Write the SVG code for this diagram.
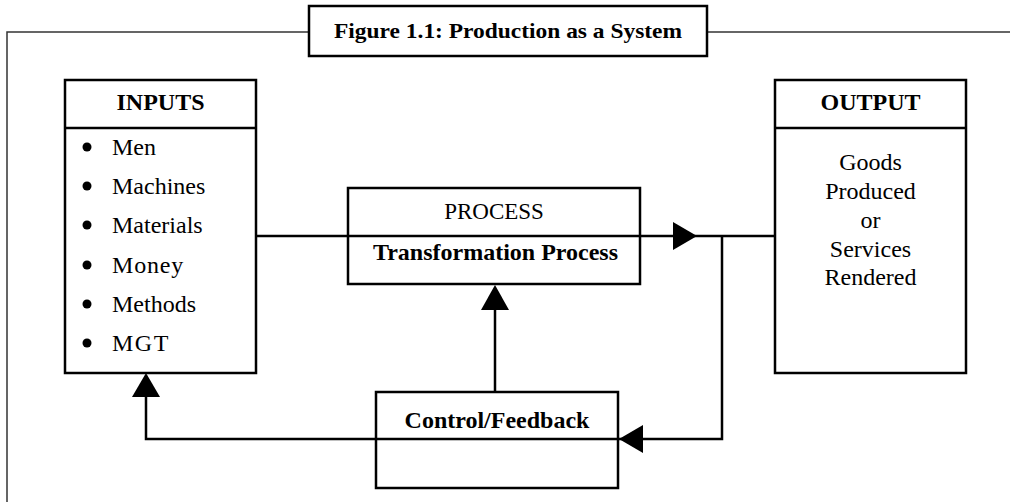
<svg xmlns="http://www.w3.org/2000/svg" width="1010" height="502" viewBox="0 0 1010 502">
<style>
.box{fill:#fff;stroke:#000;stroke-width:2.5}
.frame{fill:none;stroke:#333;stroke-width:1.5}
.conn{fill:none;stroke:#000;stroke-width:2.5}
.head{fill:#000}
text{font-family:"Liberation Serif","Times New Roman",serif;fill:#000}
.b{font-weight:bold;font-size:24px}
.r{font-size:24px}
.c{text-anchor:middle}
</style>
<rect width="1010" height="502" fill="#fff"/>
<g id="frame">
<polyline class="frame" points="7,502 7,32 309,32"/>
<line class="frame" x1="707" y1="32" x2="1010" y2="32"/>
</g>
<g id="title">
<rect class="box" x="309" y="6" width="398" height="50"/>
<text class="c" x="508" y="38" style="font-weight:bold;font-size:21px" textLength="348" lengthAdjust="spacingAndGlyphs">Figure 1.1: Production as a System</text>
</g>
<g id="inputs">
<rect class="box" x="65" y="80" width="191" height="293"/>
<line class="conn" x1="65" y1="128" x2="256" y2="128"/>
<text class="b c" x="160.5" y="110">INPUTS</text>
<g class="head">
<circle cx="87" cy="147" r="4.5"/>
<circle cx="87" cy="186" r="4.5"/>
<circle cx="87" cy="225" r="4.5"/>
<circle cx="87" cy="265" r="4.5"/>
<circle cx="87" cy="304" r="4.5"/>
<circle cx="87" cy="343" r="4.5"/>
</g>
<text class="r" x="112" y="155">Men</text>
<text class="r" x="112" y="194">Machines</text>
<text class="r" x="112" y="233">Materials</text>
<text class="r" x="112" y="273" letter-spacing="0.8">Money</text>
<text class="r" x="112" y="312">Methods</text>
<text class="r" x="112" y="351" letter-spacing="1.5">MGT</text>
</g>
<g id="process">
<rect class="box" x="348" y="188" width="292" height="96"/>
<text class="r c" x="494" y="219" style="font-size:23px">PROCESS</text>
<text class="b c" x="495.5" y="260">Transformation Process</text>
</g>
<g id="output">
<rect class="box" x="775" y="80" width="191" height="293"/>
<line class="conn" x1="775" y1="128" x2="966" y2="128"/>
<text class="b c" x="870.5" y="110">OUTPUT</text>
<text class="r c" x="870.5" y="170">Goods</text>
<text class="r c" x="870.5" y="199">Produced</text>
<text class="r c" x="870.5" y="228">or</text>
<text class="r c" x="870.5" y="257">Services</text>
<text class="r c" x="870.5" y="285">Rendered</text>
</g>
<g id="control">
<rect class="box" x="376" y="392" width="242" height="96"/>
<text class="b c" x="497" y="428">Control/Feedback</text>
</g>
<g id="connectors">
<line class="conn" x1="256" y1="236" x2="775" y2="236"/>
<polygon class="head" points="673,222 697,236 673,250"/>
<polyline class="conn" points="722,236 722,439 618,439"/>
<polygon class="head" points="643,425 619,439 643,453"/>
<polyline class="conn" points="618,439 146,439 146,396"/>
<polygon class="head" points="132,397 146,373 160,397"/>
<line class="conn" x1="495" y1="392" x2="495" y2="308"/>
<polygon class="head" points="481,310 495,285 509,310"/>
</g>
</svg>
